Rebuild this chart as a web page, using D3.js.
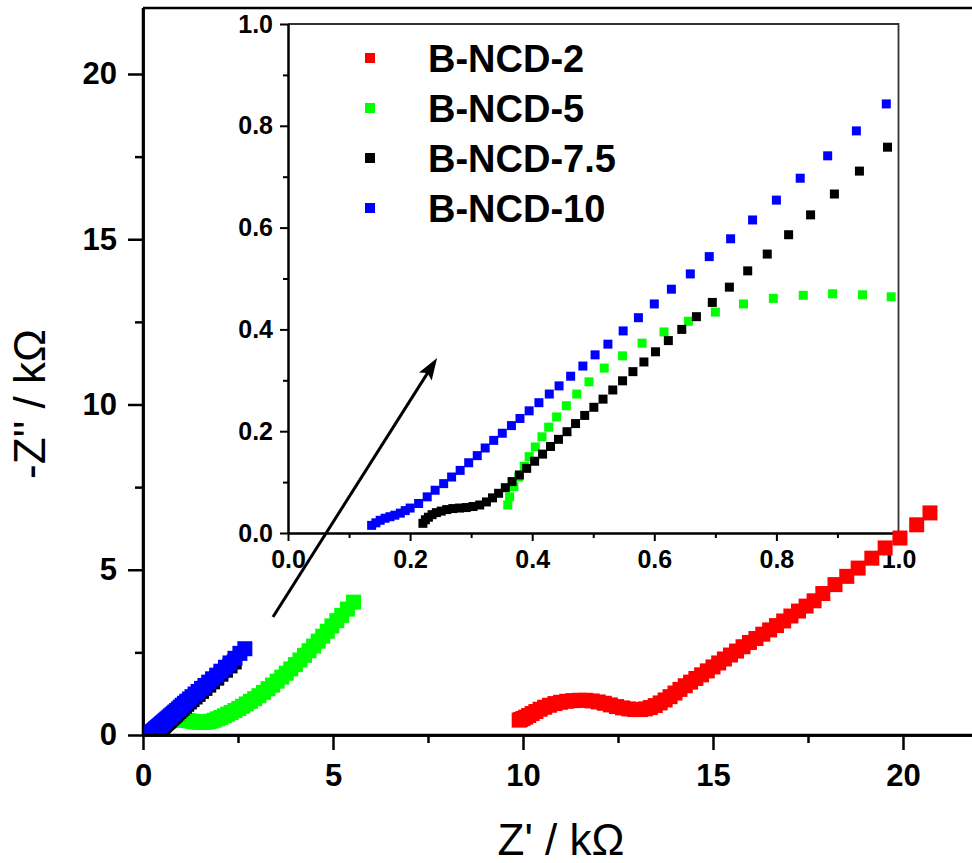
<!DOCTYPE html>
<html>
<head>
<meta charset="utf-8">
<script src="https://cdn.jsdelivr.net/npm/d3@7"></script>
<style>
  html, body { margin: 0; padding: 0; background: #ffffff; }
  svg { display: block; }
  text { font-family: Arial, "Liberation Sans", sans-serif; }
</style>
</head>
<body>
<svg id="chart" width="972" height="863"></svg>
<script>
// ---------------- DATA (Z' , -Z'' in kOhm) ----------------
const seriesNames = ["B-NCD-2", "B-NCD-5", "B-NCD-7.5", "B-NCD-10"];
const seriesColors = ["#ff0000", "#00ff00", "#000000", "#0000ff"];

const ncd2 = [
  [9.90,0.45],[9.94,0.47],[10.00,0.50],[10.07,0.54],[10.15,0.59],[10.24,0.65],[10.34,0.71],
  [10.45,0.78],[10.57,0.84],[10.70,0.90],[10.84,0.95],[10.99,0.99],[11.15,1.02],[11.31,1.04],
  [11.48,1.05],[11.65,1.05],[11.82,1.03],[11.98,1.00],[12.14,0.96],[12.30,0.91],[12.46,0.86],
  [12.62,0.82],[12.78,0.79],[12.94,0.77],[13.09,0.77],[13.22,0.79],[13.35,0.83],[13.48,0.89],
  [13.61,0.97],[13.74,1.06],[13.87,1.16],[14.00,1.27],[14.13,1.38],[14.27,1.49],[14.41,1.60],
  [14.55,1.71],[14.70,1.82],[14.85,1.94],[15.00,2.06],[15.15,2.18],[15.30,2.30],[15.46,2.42],
  [15.62,2.54],[15.79,2.67],[15.96,2.80],[16.13,2.92],[16.31,3.05],[16.49,3.18],[16.67,3.31],
  [16.86,3.45],[17.05,3.60],[17.25,3.75],[17.45,3.90],[17.66,4.06],[17.89,4.28],[18.21,4.55],
  [18.52,4.80],[18.82,5.05],[19.18,5.35],[19.53,5.66],[19.92,5.96],[20.36,6.36],[20.71,6.72]
];

const ncd5 = [
  [0.360,0.055],[0.363,0.071],[0.370,0.091],[0.378,0.110],[0.387,0.131],[0.395,0.150],
  [0.405,0.169],[0.416,0.189],[0.427,0.208],[0.440,0.228],[0.456,0.250],[0.473,0.273],
  [0.493,0.297],[0.518,0.324],[0.548,0.348],[0.580,0.373],[0.616,0.395],[0.656,0.416],
  [0.700,0.434],[0.746,0.450],[0.795,0.461],[0.844,0.467],[0.892,0.470],[0.941,0.468],
  [0.988,0.464],[1.04,0.460],[1.10,0.452],[1.17,0.440],[1.24,0.425],[1.32,0.410],[1.40,0.395],
  [1.48,0.385],[1.56,0.380],[1.64,0.385],[1.72,0.400],[1.80,0.420],[1.88,0.450],[1.96,0.490],
  [2.05,0.530],[2.14,0.580],[2.23,0.630],[2.32,0.680],[2.42,0.740],[2.52,0.800],[2.62,0.870],
  [2.72,0.940],[2.83,1.020],[2.94,1.100],[3.05,1.190],[3.17,1.290],[3.29,1.400],[3.41,1.510],
  [3.53,1.630],[3.65,1.750],[3.77,1.870],[3.89,2.000],[4.01,2.130],[4.13,2.270],[4.25,2.410],
  [4.37,2.550],[4.49,2.690],[4.61,2.840],[4.73,2.990],[4.85,3.140],[4.97,3.300],[5.10,3.460],
  [5.23,3.620],[5.38,3.810],[5.54,4.020]
];

const ncd75 = [
  [0.221,0.019],[0.225,0.026],[0.230,0.031],[0.236,0.036],[0.243,0.040],[0.251,0.043],
  [0.260,0.046],[0.270,0.048],[0.281,0.049],[0.292,0.050],[0.303,0.052],[0.314,0.055],
  [0.325,0.061],[0.335,0.069],[0.345,0.078],[0.356,0.089],[0.367,0.101],[0.379,0.114],
  [0.391,0.127],[0.404,0.141],[0.417,0.155],[0.430,0.170],[0.443,0.184],[0.457,0.199],
  [0.471,0.215],[0.486,0.231],[0.501,0.247],[0.516,0.263],[0.532,0.281],[0.548,0.299],
  [0.565,0.317],[0.583,0.336],[0.602,0.356],[0.623,0.378],[0.645,0.400],[0.669,0.425],
  [0.695,0.453],[0.723,0.483],[0.753,0.515],[0.785,0.548],[0.820,0.586],[0.856,0.625],
  [0.895,0.666],[0.936,0.711],[0.982,0.758],[1.03,0.81],[1.09,0.87],[1.15,0.93],[1.22,1.00],
  [1.29,1.07],[1.37,1.15],[1.45,1.23],[1.54,1.32],[1.63,1.41],[1.73,1.51],[1.83,1.61],
  [1.94,1.72],[2.05,1.84],[2.17,1.96],[2.29,2.09],[2.40,2.21]
];

const ncd10 = [
  [0.137,0.015],[0.144,0.020],[0.151,0.025],[0.159,0.029],[0.167,0.032],[0.175,0.035],
  [0.184,0.039],[0.192,0.044],[0.200,0.049],[0.214,0.058],[0.228,0.071],[0.241,0.084],
  [0.255,0.097],[0.268,0.110],[0.282,0.123],[0.296,0.138],[0.310,0.152],[0.323,0.167],
  [0.337,0.182],[0.351,0.196],[0.366,0.211],[0.380,0.225],[0.395,0.240],[0.411,0.256],
  [0.428,0.273],[0.444,0.289],[0.463,0.308],[0.483,0.328],[0.503,0.350],[0.524,0.371],
  [0.549,0.397],[0.574,0.423],[0.600,0.450],[0.628,0.479],[0.659,0.509],[0.690,0.543],
  [0.725,0.578],[0.761,0.615],[0.800,0.654],[0.839,0.697],[0.884,0.741],[0.931,0.790],
  [0.980,0.843],[1.03,0.90],[1.09,0.96],[1.15,1.02],[1.22,1.09],[1.29,1.16],[1.37,1.24],
  [1.45,1.32],[1.54,1.41],[1.63,1.50],[1.73,1.60],[1.83,1.70],[1.94,1.81],[2.05,1.93],
  [2.17,2.05],[2.29,2.18],[2.42,2.32],[2.55,2.47],[2.68,2.61]
];

const allSeries = [ncd2, ncd5, ncd75, ncd10];

const mainXTicks = [0, 5, 10, 15, 20];
const mainXMinor = [2.5, 7.5, 12.5, 17.5];
const mainYTicks = [0, 5, 10, 15, 20];
const mainYMinor = [2.5, 7.5, 12.5, 17.5];
const insetTicks = [0, 0.2, 0.4, 0.6, 0.8, 1.0];
const insetMinor = [0.1, 0.3, 0.5, 0.7, 0.9];
const arrowFrom = [3.42, 3.57];   // main-plot data coordinates
const arrowTo = [7.74, 11.41];

// ---------------- LAYOUT ----------------
const svg = d3.select("#chart");
const font = "Arial, 'Liberation Sans', sans-serif";

const xMain = d3.scaleLinear().domain([0, 22]).range([143, 979]);
const yMain = d3.scaleLinear().domain([0, 22]).range([735, 7.9]);
const xIn = d3.scaleLinear().domain([0, 1]).range([288, 898.5]);
const yIn = d3.scaleLinear().domain([0, 1]).range([533, 24]);

const defs = svg.append("defs");
defs.append("clipPath").attr("id", "clipMain").append("rect")
  .attr("x", xMain(0)).attr("y", yMain(22))
  .attr("width", xMain(22) - xMain(0)).attr("height", yMain(0) - yMain(22));
defs.append("clipPath").attr("id", "clipIn").append("rect")
  .attr("x", xIn(0)).attr("y", yIn(1))
  .attr("width", xIn(1) - xIn(0)).attr("height", yIn(0) - yIn(1));

// ---------------- MAIN AXES ----------------
function styleAxis(g, sw, fs) {
  g.selectAll("path.domain").attr("stroke", "#000").attr("stroke-width", sw);
  g.selectAll(".tick line").attr("stroke", "#000").attr("stroke-width", sw);
  g.selectAll(".tick text").attr("fill", "#000").attr("font-size", fs)
    .attr("font-weight", "bold").attr("font-family", font);
}

const gxMinor = svg.append("g").attr("transform", `translate(0,${yMain(0)})`)
  .call(d3.axisBottom(xMain).tickValues(mainXMinor).tickSize(8).tickSizeOuter(0).tickFormat(""));
styleAxis(gxMinor, 2.5, 31);
const gx = svg.append("g").attr("transform", `translate(0,${yMain(0)})`)
  .call(d3.axisBottom(xMain).tickValues(mainXTicks).tickSize(15).tickSizeOuter(0).tickPadding(14).tickFormat(d3.format("d")));
styleAxis(gx, 2.5, 31);

const gyMinor = svg.append("g").attr("transform", `translate(${xMain(0)},0)`)
  .call(d3.axisLeft(yMain).tickValues(mainYMinor).tickSize(8).tickSizeOuter(0).tickFormat(""));
styleAxis(gyMinor, 2.5, 31);
const gy = svg.append("g").attr("transform", `translate(${xMain(0)},0)`)
  .call(d3.axisLeft(yMain).tickValues(mainYTicks).tickSize(15).tickSizeOuter(0).tickPadding(11).tickFormat(d3.format("d")));
styleAxis(gy, 2.5, 31);

// top frame line
svg.append("line")
  .attr("x1", xMain(0)).attr("x2", xMain(22)).attr("y1", yMain(22)).attr("y2", yMain(22))
  .attr("stroke", "#000").attr("stroke-width", 2.5);

// axis titles
svg.append("text").attr("x", 561).attr("y", 855).attr("text-anchor", "middle")
  .attr("font-size", 44).attr("font-family", font).attr("fill", "#000")
  .text("Z' / k\u03A9");
svg.append("text").attr("transform", "translate(45,404) rotate(-90)").attr("text-anchor", "middle")
  .attr("font-size", 44).attr("font-family", font).attr("fill", "#000")
  .text("-Z'' / k\u03A9");

// ---------------- INSET ----------------
const inset = svg.append("g");
inset.append("rect").attr("x", xIn(0)).attr("y", yIn(1))
  .attr("width", xIn(1) - xIn(0)).attr("height", yIn(0) - yIn(1)).attr("fill", "#fff");

const insetData = inset.append("g").attr("clip-path", "url(#clipIn)");
allSeries.forEach((s, i) => {
  insetData.append("g").selectAll("rect").data(s).join("rect")
    .attr("x", d => xIn(d[0]) - 4.5).attr("y", d => yIn(d[1]) - 4.5)
    .attr("width", 9).attr("height", 9).attr("fill", seriesColors[i]);
});

// inset frame top/right
inset.append("path")
  .attr("d", `M${xIn(0)},${yIn(1)} L${xIn(1)},${yIn(1)} L${xIn(1)},${yIn(0)}`)
  .attr("fill", "none").attr("stroke", "#333").attr("stroke-width", 1.8);

const ixMinor = inset.append("g").attr("transform", `translate(0,${yIn(0)})`)
  .call(d3.axisBottom(xIn).tickValues(insetMinor).tickSize(5).tickSizeOuter(0).tickFormat(""));
styleAxis(ixMinor, 2, 25);
const ix = inset.append("g").attr("transform", `translate(0,${yIn(0)})`)
  .call(d3.axisBottom(xIn).tickValues(insetTicks).tickSize(8).tickSizeOuter(0).tickPadding(9).tickFormat(d3.format(".1f")));
styleAxis(ix, 2, 25);
const iyMinor = inset.append("g").attr("transform", `translate(${xIn(0)},0)`)
  .call(d3.axisLeft(yIn).tickValues(insetMinor).tickSize(5).tickSizeOuter(0).tickFormat(""));
styleAxis(iyMinor, 2, 25);
const iy = inset.append("g").attr("transform", `translate(${xIn(0)},0)`)
  .call(d3.axisLeft(yIn).tickValues(insetTicks).tickSize(8).tickSizeOuter(0).tickPadding(7).tickFormat(d3.format(".1f")));
styleAxis(iy, 2, 25);

// legend
const legend = inset.append("g");
seriesNames.forEach((n, i) => {
  const cy = 58 + i * 50;
  legend.append("rect").attr("x", 365).attr("y", cy - 5).attr("width", 10).attr("height", 10)
    .attr("fill", seriesColors[i]);
  legend.append("text").attr("x", 428).attr("y", cy + 14)
    .attr("font-size", 38).attr("font-weight", "bold").attr("font-family", font).attr("fill", "#000")
    .text(n);
});

// ---------------- MAIN DATA ----------------
const mainData = svg.append("g").attr("clip-path", "url(#clipMain)");
allSeries.forEach((s, i) => {
  mainData.append("g").selectAll("rect").data(s).join("rect")
    .attr("x", d => xMain(d[0]) - 7.5).attr("y", d => yMain(d[1]) - 7.5)
    .attr("width", 15).attr("height", 15).attr("fill", seriesColors[i]);
});

// redraw main axis lines on top of data
svg.append("line").attr("x1", xMain(0)).attr("x2", xMain(22)).attr("y1", yMain(0)).attr("y2", yMain(0))
  .attr("stroke", "#000").attr("stroke-width", 2.5);
svg.append("line").attr("x1", xMain(0)).attr("x2", xMain(0)).attr("y1", yMain(0)).attr("y2", yMain(22))
  .attr("stroke", "#000").attr("stroke-width", 2.5);

// arrow (line + filled head)
const ax0 = xMain(arrowFrom[0]), ay0 = yMain(arrowFrom[1]);
const ax1 = xMain(arrowTo[0]), ay1 = yMain(arrowTo[1]);
const ang = Math.atan2(ay1 - ay0, ax1 - ax0);
const headLen = 22, headHalf = 7.5, notch = 4;
const ux = Math.cos(ang), uy = Math.sin(ang);
const px = -uy, py = ux;
const bx = ax1 - ux * headLen, by = ay1 - uy * headLen;
svg.append("line")
  .attr("x1", ax0).attr("y1", ay0)
  .attr("x2", ax1 - ux * 10).attr("y2", ay1 - uy * 10)
  .attr("stroke", "#000").attr("stroke-width", 3);
svg.append("path")
  .attr("d", `M${ax1},${ay1} L${bx + px * headHalf},${by + py * headHalf} ` +
             `L${bx + ux * notch},${by + uy * notch} L${bx - px * headHalf},${by - py * headHalf} Z`)
  .attr("fill", "#000");
</script>
</body>
</html>
